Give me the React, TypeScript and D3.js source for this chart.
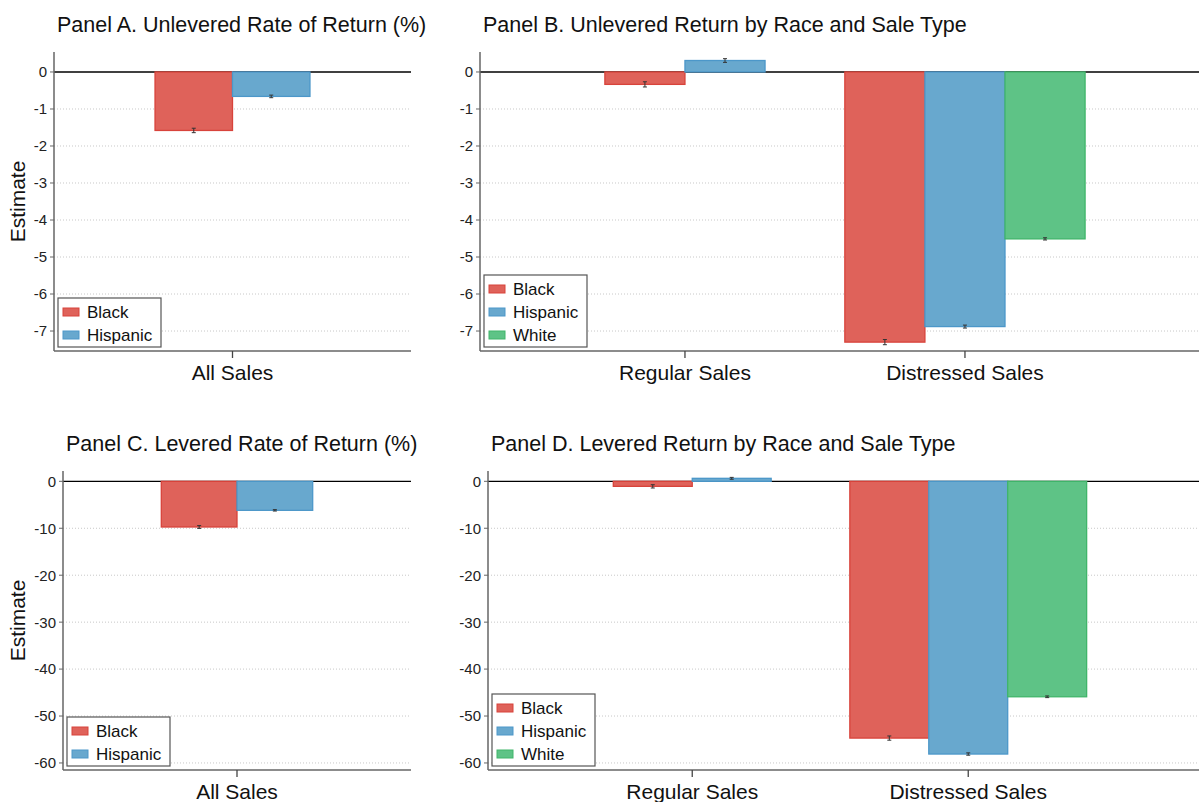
import React from "react";
import * as d3 from "d3";

// ---------- Data ----------
const races = ["Black", "Hispanic", "White"];
const raceColors = ["#DF625A", "#68A8CE", "#5EC386"];
const raceStrokes = ["#D8433B", "#4C97C9", "#40B56A"];

const allSalesCategories = ["All Sales"];
const saleTypeCategories = ["Regular Sales", "Distressed Sales"];

// Panel A: unlevered rate of return (All Sales)
const panelAValues = [[-1.58, -0.66]];
const panelAErrors = [[0.06, 0.035]];

// Panel B: unlevered return by race and sale type
const panelBValues = [
  [-0.335, 0.31],
  [-7.3, -6.88, -4.51],
];
const panelBErrors = [
  [0.07, 0.05],
  [0.07, 0.04, 0.03],
];

// Panel C: levered rate of return (All Sales)
const panelCValues = [[-9.73, -6.18]];
const panelCErrors = [[0.3, 0.15]];

// Panel D: levered return by race and sale type
const panelDValues = [
  [-1.07, 0.64],
  [-54.7, -58.1, -45.9],
];
const panelDErrors = [
  [0.35, 0.2],
  [0.45, 0.25, 0.18],
];

const unleveredTicks = [0, -1, -2, -3, -4, -5, -6, -7];
const leveredTicks = [0, -10, -20, -30, -40, -50, -60];

const FONT = "'Liberation Sans', Arial, Helvetica, sans-serif";

type PanelProps = {
  title: string;
  categories: string[];
  values: number[][];
  errors: number[][];
  ticks: number[];
  yDomain: [number, number];
  xDomain: [number, number];
  left: number;
  right: number;
  top: number;
  bottom: number;
  barWidth: number; // in x-domain units
  legendCount: number;
  showYLabel: boolean;
  yLabelX: number;
};

function Panel(p: PanelProps) {
  const y = d3.scaleLinear().domain(p.yDomain).range([p.bottom, p.top]);
  const x = d3.scaleLinear().domain(p.xDomain).range([p.left, p.right]);
  const catPos = p.categories.map((_, i) => i + 1);
  const y0 = y(0);
  const bars: JSX.Element[] = [];
  const errs: JSX.Element[] = [];
  p.values.forEach((group, gi) => {
    const n = group.length;
    group.forEach((v, ri) => {
      const cx = catPos[gi] + (ri - (n - 1) / 2) * p.barWidth;
      const x1 = x(cx - p.barWidth / 2);
      const x2 = x(cx + p.barWidth / 2);
      const yv = y(v);
      bars.push(
        <rect
          key={`b${gi}-${ri}`}
          x={x1}
          y={Math.min(yv, y0)}
          width={x2 - x1}
          height={Math.abs(yv - y0)}
          fill={raceColors[ri]}
          stroke={raceStrokes[ri]}
          strokeWidth={1.3}
        />
      );
      const e = p.errors[gi][ri];
      const ex = x(cx);
      const ya = y(v + e);
      const yb = y(v - e);
      errs.push(
        <g key={`e${gi}-${ri}`} stroke="#333" strokeWidth={1}>
          <line x1={ex} x2={ex} y1={ya} y2={yb} />
          <line x1={ex - 2} x2={ex + 2} y1={ya} y2={ya} />
          <line x1={ex - 2} x2={ex + 2} y1={yb} y2={yb} />
        </g>
      );
    });
  });

  const legW = 103;
  const rowH = 23;
  const legH = p.legendCount * rowH + 3;
  const legX = p.left + 4;
  const legY = p.bottom - 4 - legH;

  return (
    <g fontFamily={FONT}>
      <text x={p.left + 3} y={p.top - 20.5} fontSize={21.5} fill="#111">
        {p.title}
      </text>
      {/* gridlines */}
      {p.ticks
        .filter((t) => t !== 0)
        .map((t) => (
          <line
            key={`g${t}`}
            x1={p.left}
            x2={p.right}
            y1={y(t)}
            y2={y(t)}
            stroke="#c8c8c8"
            strokeWidth={1}
            strokeDasharray="1,2"
          />
        ))}
      {/* zero line */}
      <line x1={p.left} x2={p.right} y1={y0} y2={y0} stroke="#000" strokeWidth={1.3} />
      {bars}
      {errs}
      {/* axes */}
      <line x1={p.left} x2={p.left} y1={p.top} y2={p.bottom} stroke="#666" strokeWidth={1.5} />
      <line x1={p.left} x2={p.right} y1={p.bottom} y2={p.bottom} stroke="#666" strokeWidth={1.5} />
      {p.ticks.map((t) => (
        <g key={`t${t}`}>
          <line x1={p.left - 4} x2={p.left} y1={y(t)} y2={y(t)} stroke="#666" strokeWidth={1} />
          <text
            x={p.left - 7}
            y={y(t)}
            dy="0.36em"
            textAnchor="end"
            fontSize={15}
            fill="#222"
          >
            {t}
          </text>
        </g>
      ))}
      {p.categories.map((c, i) => (
        <g key={`c${c}`}>
          <line
            x1={x(catPos[i])}
            x2={x(catPos[i])}
            y1={p.bottom}
            y2={p.bottom + 7}
            stroke="#444"
            strokeWidth={1.3}
          />
          <text x={x(catPos[i])} y={p.bottom + 29} textAnchor="middle" fontSize={21} fill="#111">
            {c}
          </text>
        </g>
      ))}
      {p.showYLabel && (
        <text
          transform={`translate(${p.yLabelX},${(p.top + p.bottom) / 2}) rotate(-90)`}
          textAnchor="middle"
          fontSize={21}
          fill="#111"
        >
          Estimate
        </text>
      )}
      {/* legend */}
      <rect x={legX} y={legY} width={legW} height={legH} fill="#fff" stroke="#555" strokeWidth={1.2} />
      {races.slice(0, p.legendCount).map((r, i) => {
        const cy = legY + 14 + i * rowH;
        return (
          <g key={`l${r}`}>
            <rect
              x={legX + 5}
              y={cy - 4}
              width={16}
              height={8}
              fill={raceColors[i]}
              stroke={raceStrokes[i]}
              strokeWidth={1}
            />
            <text x={legX + 29} y={cy} dy="0.36em" fontSize={17} fill="#111">
              {r}
            </text>
          </g>
        );
      })}
    </g>
  );
}

export default function App() {
  return (
    <svg
      width={1199}
      height={802}
      style={{ position: "absolute", left: 0, top: 0, background: "#fff" }}
    >
      <rect width={1199} height={802} fill="#fff" />
      <Panel
        title="Panel A. Unlevered Rate of Return (%)"
        categories={allSalesCategories}
        values={panelAValues}
        errors={panelAErrors}
        ticks={unleveredTicks}
        yDomain={[-7.54, 0.54]}
        xDomain={[0, 2]}
        left={54}
        right={411}
        top={52}
        bottom={351}
        barWidth={0.434}
        legendCount={2}
        showYLabel={true}
        yLabelX={25}
      />
      <Panel
        title="Panel B. Unlevered Return by Race and Sale Type"
        categories={saleTypeCategories}
        values={panelBValues}
        errors={panelBErrors}
        ticks={unleveredTicks}
        yDomain={[-7.54, 0.54]}
        xDomain={[0.268, 2.9]}
        left={480}
        right={480 + 2.632 * 280}
        top={52}
        bottom={351}
        barWidth={0.286}
        legendCount={3}
        showYLabel={false}
        yLabelX={0}
      />
      <Panel
        title="Panel C. Levered Rate of Return (%)"
        categories={allSalesCategories}
        values={panelCValues}
        errors={panelCErrors}
        ticks={leveredTicks}
        yDomain={[-61.5, 2.2]}
        xDomain={[0, 2]}
        left={63}
        right={411}
        top={471}
        bottom={770}
        barWidth={0.435}
        legendCount={2}
        showYLabel={true}
        yLabelX={25}
      />
      <Panel
        title="Panel D. Levered Return by Race and Sale Type"
        categories={saleTypeCategories}
        values={panelDValues}
        errors={panelDErrors}
        ticks={leveredTicks}
        yDomain={[-61.5, 2.2]}
        xDomain={[0.26, 2.9]}
        left={488}
        right={488 + 2.64 * 276}
        top={471}
        bottom={770}
        barWidth={0.286}
        legendCount={3}
        showYLabel={false}
        yLabelX={0}
      />
    </svg>
  );
}
